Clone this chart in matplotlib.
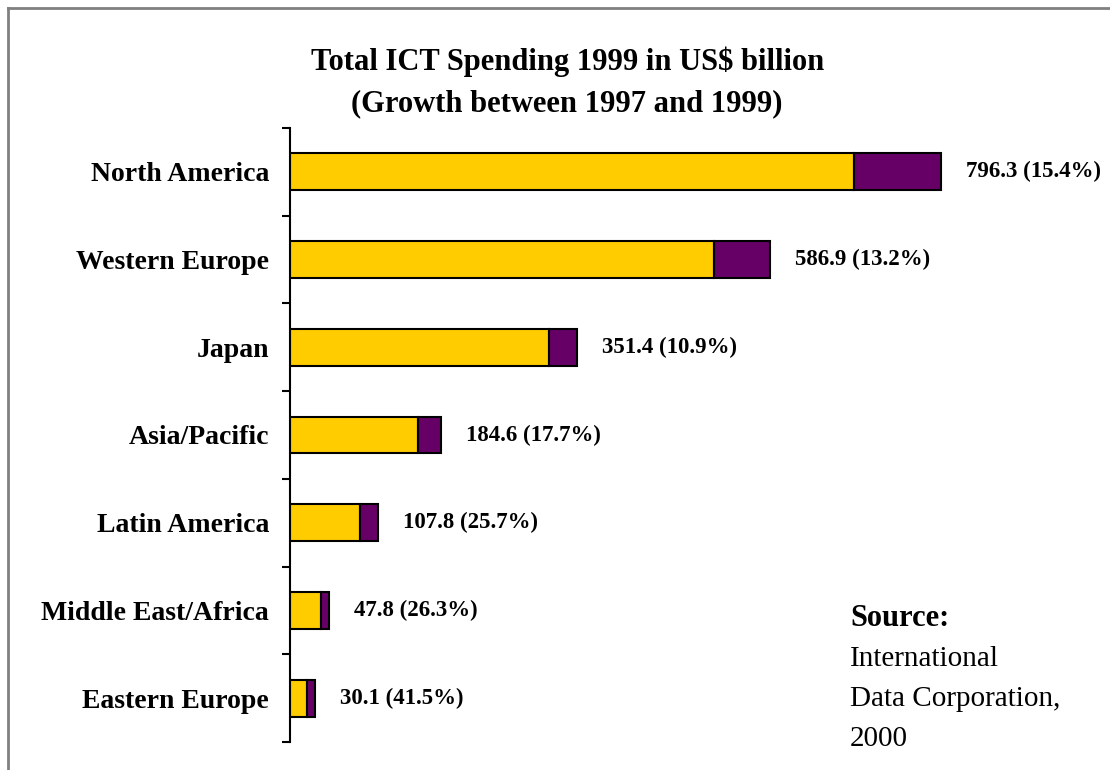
import matplotlib
matplotlib.use('Agg')
import matplotlib.pyplot as plt
from matplotlib.lines import Line2D

# Werte (US$ Mrd.)
regions = ['North America', 'Western Europe', 'Japan', 'Asia/Pacific',
           'Latin America', 'Middle East/Africa', 'Eastern Europe']
total_1999 = [796.3, 586.9, 351.4, 184.6, 107.8, 47.8, 30.1]
growth_pct = [15.4, 13.2, 10.9, 17.7, 25.7, 26.3, 41.5]
# Wert 1997 (gelber Teil), aus dem Bild geschaetzt
base_1997 = [690.0, 518.5, 316.9, 156.8, 85.8, 37.8, 21.3]

YELLOW = '#FFCC00'
PURPLE = '#660066'

plt.rcParams['font.family'] = ['Liberation Serif', 'DejaVu Serif']

fig = plt.figure(figsize=(11.1, 7.7), dpi=100)
ax = fig.add_axes([290/1110, 1 - 742/770, (1000 - 290)/1110, (742 - 128)/770])

pos = list(range(len(regions)))
growth = [t - b for t, b in zip(total_1999, base_1997)]

ax.barh(pos, base_1997, height=0.42, color=YELLOW, edgecolor='black', linewidth=1.5)
ax.barh(pos, growth, left=base_1997, height=0.42, color=PURPLE, edgecolor='black', linewidth=1.5)

for p, t, g in zip(pos, total_1999, growth_pct):
    ax.annotate('%.1f (%.1f%%)' % (t, g), xy=(t, p), xytext=(18, 0),
                textcoords='offset points', va='center', ha='left',
                fontsize=16.5, fontweight='bold')

ax.set_xlim(0, (1000 - 290) / 0.8175)
ax.set_ylim(len(regions) - 0.5, -0.5)

ax.set_yticks(pos)
ax.set_yticklabels(regions, fontsize=20, fontweight='bold')
ax.tick_params(axis='y', which='major', length=0, pad=15)
ax.set_yticks([p - 0.5 for p in pos] + [len(regions) - 0.5], minor=True)
ax.tick_params(axis='y', which='minor', length=6, width=1.5, direction='out')
ax.set_xticks([])

for s in ['top', 'right', 'bottom']:
    ax.spines[s].set_visible(False)
ax.spines['left'].set_linewidth(1.5)

fig.text(0.511, 1 - 62/770, 'Total ICT Spending 1999 in US$ billion',
         ha='center', va='center', fontsize=22, fontweight='bold')
fig.text(0.511, 1 - 104/770, '(Growth between 1997 and 1999)',
         ha='center', va='center', fontsize=22, fontweight='bold')

fig.text(850/1110, 1 - 619/770, 'Source:', ha='left', va='center',
         fontsize=22, fontweight='bold')
for i, line in enumerate(['International', 'Data Corporation,', '2000']):
    fig.text(850/1110, 1 - (659 + 40*i)/770, line, ha='left', va='center', fontsize=21)

# grauer Rahmen oben und links
fig.add_artist(Line2D([8/1110, 8/1110], [0, 1 - 8/770], color='#808080', lw=2,
                      transform=fig.transFigure))
fig.add_artist(Line2D([8/1110, 1], [1 - 8/770, 1 - 8/770], color='#808080', lw=2,
                      transform=fig.transFigure))

fig.savefig('out.png', dpi=100)
